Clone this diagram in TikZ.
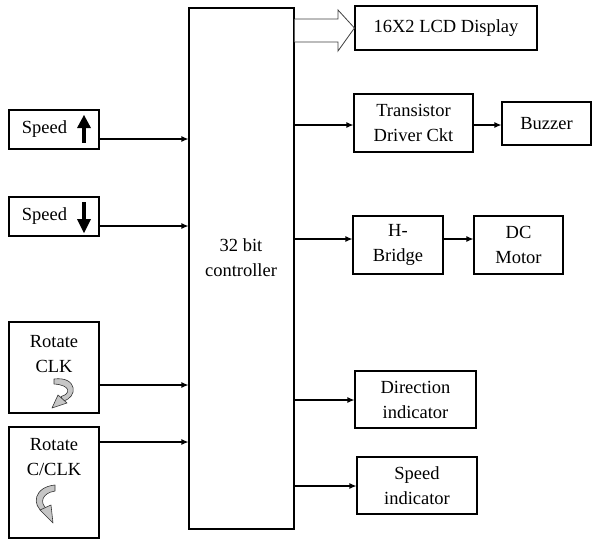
\documentclass[tikz,border=0pt]{standalone}
\usepackage{fontspec}
\setmainfont{LiberationSerif-Regular.ttf}
\usetikzlibrary{arrows.meta}
\begin{document}
\begin{tikzpicture}[x=1pt,y=-1pt,line width=1.1pt,
  box/.style={draw,rectangle,inner sep=0pt,align=center,font=\fontsize{18.5}{25}\selectfont},
  txt/.style={inner sep=0pt,align=center,font=\fontsize{18.5}{25}\selectfont},
  arr/.style={-{Latex[length=7pt,width=6pt]}},
  icon/.style={fill=gray!45,draw=black!80,line width=0.6pt,line join=round},
  bold/.style={fill=black,draw=none}]
\useasboundingbox (0,0) rectangle (592,539);
% controller
\node[box,minimum width=105pt,minimum height=521pt] (ctrl) at (241.5,268.5) {};
\node[txt,anchor=north] (ctrltxt) at (241,238) {32 bit\\controller};
% inputs
\node[box,minimum width=90pt,minimum height=39pt] (sup) at (54,129.5) {};
\node[box,minimum width=90pt,minimum height=39pt] (sdn) at (54,216.5) {};
\node[box,minimum width=90pt,minimum height=91pt] (rclk) at (54,367.5) {};
\node[box,minimum width=90pt,minimum height=111pt] (rcclk) at (54,482.5) {};
\node[txt] (suptxt) at (44.5,129.5) {Speed};
\node[txt] (sdntxt) at (44.5,216.5) {Speed};
\node[txt,anchor=north] (rclktxt) at (54,335) {Rotate\\CLK};
\node[txt,anchor=north] (rcclktxt) at (54,438) {Rotate\\C/CLK};
% speed arrows
\fill[bold] (82,126) rectangle (86,143);
\fill[bold] (77,128) -- (84,115) -- (91,128) -- cycle;
\fill[bold] (82,202) rectangle (86,220);
\fill[bold] (77,219) -- (84,233) -- (91,219) -- cycle;
% rotate CLK icon
\filldraw[icon] (54,379) .. controls (78,376) and (78,398) .. (63,401)
  -- (61,396.5) .. controls (71,394) and (71,385) .. (54,384) -- cycle;
\filldraw[icon] (58,395) -- (67,403) -- (52,408) -- cycle;
% rotate C/CLK icon
\filldraw[icon] (55,485) .. controls (34,487) and (31,505) .. (44,513)
  -- (47,509) .. controls (39,503) and (42,493) .. (55,491) -- cycle;
\filldraw[icon] (40,510) -- (51,505) -- (53,523) -- cycle;
% outputs
\node[box,minimum width=182pt,minimum height=44pt] (lcd) at (446,28) {16X2 LCD Display};
\node[box,minimum width=119pt,minimum height=58pt] (trans) at (413.5,123) {Transistor\\Driver Ckt};
\node[box,minimum width=89pt,minimum height=43pt] (buzz) at (546.5,123.5) {Buzzer};
\node[box,minimum width=90pt,minimum height=58pt] (hb) at (398,245) {H-\\Bridge};
\node[box,minimum width=89pt,minimum height=58pt] (dc) at (518.5,245) {DC\\Motor};
\node[box,minimum width=121pt,minimum height=57pt] (dir) at (415.5,399.5) {Direction\\indicator};
\node[box,minimum width=120pt,minimum height=57pt] (spd) at (417,485.5) {Speed\\indicator};
% input connectors
\draw[arr] (sup.east |- 0,139) -- (ctrl.west |- 0,139);
\draw[arr] (sdn.east |- 0,226) -- (ctrl.west |- 0,226);
\draw[arr] (rclk.east |- 0,385) -- (ctrl.west |- 0,385);
\draw[arr] (rcclk.east |- 0,442) -- (ctrl.west |- 0,442);
% output connectors
\filldraw[line width=0.8pt,draw=black!75,fill=white] (ctrl.east |- 0,19) -- (338,19) -- (338,10)
  -- (lcd.west) -- (338,51) -- (338,42) -- (ctrl.east |- 0,42);
\draw[arr] (ctrl.east |- 0,125) -- (trans.west |- 0,125);
\draw[arr] (trans.east |- 0,125) -- (buzz.west |- 0,125);
\draw[arr] (ctrl.east |- 0,239) -- (hb.west |- 0,239);
\draw[arr] (hb.east |- 0,239) -- (dc.west |- 0,239);
\draw[arr] (ctrl.east |- 0,400) -- (dir.west |- 0,400);
\draw[arr] (ctrl.east |- 0,486) -- (spd.west |- 0,486);
\end{tikzpicture}
\end{document}
